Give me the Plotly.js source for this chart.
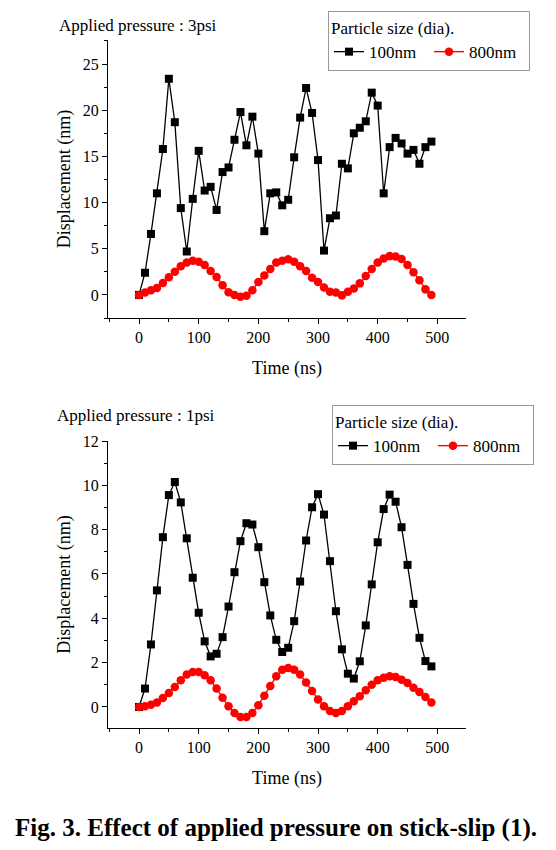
<!DOCTYPE html>
<html>
<head>
<meta charset="utf-8">
<script src="https://cdn.plot.ly/plotly-3.0.1.min.js"></script>
<style>html,body{margin:0;padding:0;background:#fff;}#chart{width:556px;height:850px;}</style>
</head>
<body>
<div id="chart"></div>
<script>
// Time axis (ns)
const time = [0,10,20,30,40,50,60,70,80,90,100,110,120,130,140,150,160,170,180,190,200,210,220,230,240,250,260,270,280,290,300,310,320,330,340,350,360,370,380,390,400,410,420,430,440,450,460,470,480,490];

// Applied pressure 3psi
const p3_100nm = [0,2.4,6.6,11.0,15.8,23.4,18.7,9.4,4.7,10.4,15.6,11.3,11.7,9.2,13.3,13.8,16.8,19.8,16.2,19.3,15.3,6.9,11.0,11.1,9.7,10.3,14.9,19.2,22.4,19.7,14.6,4.8,8.3,8.6,14.2,13.7,17.5,18.1,18.8,21.9,20.5,11.0,16.0,17.0,16.4,15.3,15.7,14.2,16.0,16.6];
const p3_800nm = [0,0.25,0.5,0.75,1.3,1.9,2.5,3.1,3.5,3.7,3.6,3.25,2.6,1.95,1.05,0.3,0,-0.2,-0.1,0.5,1.4,2.1,2.8,3.5,3.7,3.85,3.6,3.1,2.6,1.85,1.4,0.8,0.35,0.25,-0.05,0.35,0.7,1.25,2.05,2.8,3.5,3.95,4.2,4.15,3.9,3.25,2.45,1.6,0.6,0];

// Applied pressure 1psi
const p1_100nm = [0,0.83,2.82,5.26,7.66,9.56,10.15,9.23,7.61,5.83,4.25,2.96,2.28,2.40,3.15,4.53,6.08,7.48,8.29,8.23,7.21,5.63,4.13,3.03,2.48,2.67,3.87,5.66,7.51,9.01,9.6,8.68,6.58,4.32,2.6,1.5,1.28,2.06,3.68,5.53,7.43,8.93,9.58,9.26,8.11,6.41,4.65,3.12,2.07,1.83];
const p1_800nm = [0,0.03,0.1,0.2,0.4,0.63,0.9,1.2,1.46,1.58,1.58,1.43,1.2,0.83,0.42,0.03,-0.27,-0.45,-0.45,-0.27,0.08,0.5,0.95,1.38,1.68,1.76,1.68,1.46,1.1,0.72,0.34,0.03,-0.18,-0.27,-0.18,0.03,0.26,0.48,0.75,1.0,1.2,1.32,1.38,1.35,1.23,1.08,0.87,0.68,0.45,0.2];

const seriesNames = ['100nm','800nm'];
const xTicks = [0,100,200,300,400,500];
const legendTitle = 'Particle size (dia).';
const panelLabels = ['Applied pressure : 3psi','Applied pressure : 1psi'];
const xTitle = 'Time (ns)';
const yTitle = 'Displacement (nm)';
const caption = 'Fig. 3. Effect of applied pressure on stick-slip (1).';

const FONT = 'Liberation Serif';
const blackStyle = {mode:'lines+markers', line:{color:'#000', width:1.3}, marker:{symbol:'square', size:8, color:'#000'}};
const redStyle = {mode:'lines+markers', line:{color:'#ff0000', width:1.4}, marker:{symbol:'circle', size:8.5, color:'#ff0000'}};

const traces = [
  Object.assign({x:time, y:p3_100nm, name:seriesNames[0], xaxis:'x', yaxis:'y', legend:'legend'}, blackStyle),
  Object.assign({x:time, y:p3_800nm, name:seriesNames[1], xaxis:'x', yaxis:'y', legend:'legend'}, redStyle),
  Object.assign({x:time, y:p1_100nm, name:seriesNames[0], xaxis:'x2', yaxis:'y2', legend:'legend2'}, blackStyle),
  Object.assign({x:time, y:p1_800nm, name:seriesNames[1], xaxis:'x2', yaxis:'y2', legend:'legend2'}, redStyle)
];

function xax(anchor){
  return {domain:[108/556, 466/556], range:[-52,548], anchor:anchor, showline:true, linecolor:'#000', linewidth:1,
    showgrid:false, zeroline:false, ticks:'outside', ticklen:5, tickcolor:'#000', tickvals:xTicks,
    minor:{dtick:50, ticks:'outside', ticklen:3, tickcolor:'#000'},
    tickfont:{family:FONT, size:16, color:'#000'}, automargin:false,
    title:{text:xTitle, font:{family:FONT, size:18, color:'#000'}, standoff:16}};
}
function yax(anchor, dom, rng, dt, mdt){
  return {domain:dom, range:rng, anchor:anchor, showline:true, linecolor:'#000', linewidth:1,
    showgrid:false, zeroline:false, ticks:'outside', ticklen:5, tickcolor:'#000', dtick:dt, tick0:0,
    minor:{dtick:mdt, ticks:'outside', ticklen:3, tickcolor:'#000'},
    tickfont:{family:FONT, size:16, color:'#000'}, automargin:false,
    title:{text:yTitle, font:{family:FONT, size:18, color:'#000'}, standoff:7}};
}

const legStyle = {orientation:'h', xanchor:'left', yanchor:'top', bordercolor:'#999', borderwidth:1, bgcolor:'#fff',
  font:{family:FONT, size:17, color:'#000'}, title:{text:legendTitle, side:'top', font:{family:FONT, size:17, color:'#000'}},
  itemwidth:30, tracegroupgap:0, entrywidth:55, entrywidthmode:'pixels'};

const layout = {
  width:556, height:850, margin:{l:0, r:0, t:0, b:0, autoexpand:false}, paper_bgcolor:'#fff', plot_bgcolor:'#fff',
  font:{family:FONT, size:17, color:'#000'},
  showlegend:true,
  xaxis: xax('y'),
  yaxis: yax('x', [532/850, 810/850], [-2.5, 27.6], 5, 2.5),
  xaxis2: xax('y2'),
  yaxis2: yax('x2', [122/850, 409/850], [-0.95, 12.0], 2, 1),
  legend: Object.assign({}, legStyle, {x:328/556, y:(850-11)/850}),
  legend2: Object.assign({}, legStyle, {x:332/556, y:(850-405)/850}),
  annotations:[
    {text:panelLabels[0], xref:'paper', yref:'paper', x:57/556, y:(850-25)/850, xanchor:'left', yanchor:'middle', showarrow:false, font:{family:FONT, size:17, color:'#000'}},
    {text:panelLabels[1], xref:'paper', yref:'paper', x:55/556, y:(850-415)/850, xanchor:'left', yanchor:'middle', showarrow:false, font:{family:FONT, size:17, color:'#000'}},
    {text:'<b>'+caption+'</b>', xref:'paper', yref:'paper', x:0.497, y:(850-828)/850, xanchor:'center', yanchor:'middle', showarrow:false, font:{family:FONT, size:25, color:'#000'}}
  ]
};

Plotly.newPlot('chart', traces, layout, {staticPlot:true, displayModeBar:false});
</script>
</body>
</html>
